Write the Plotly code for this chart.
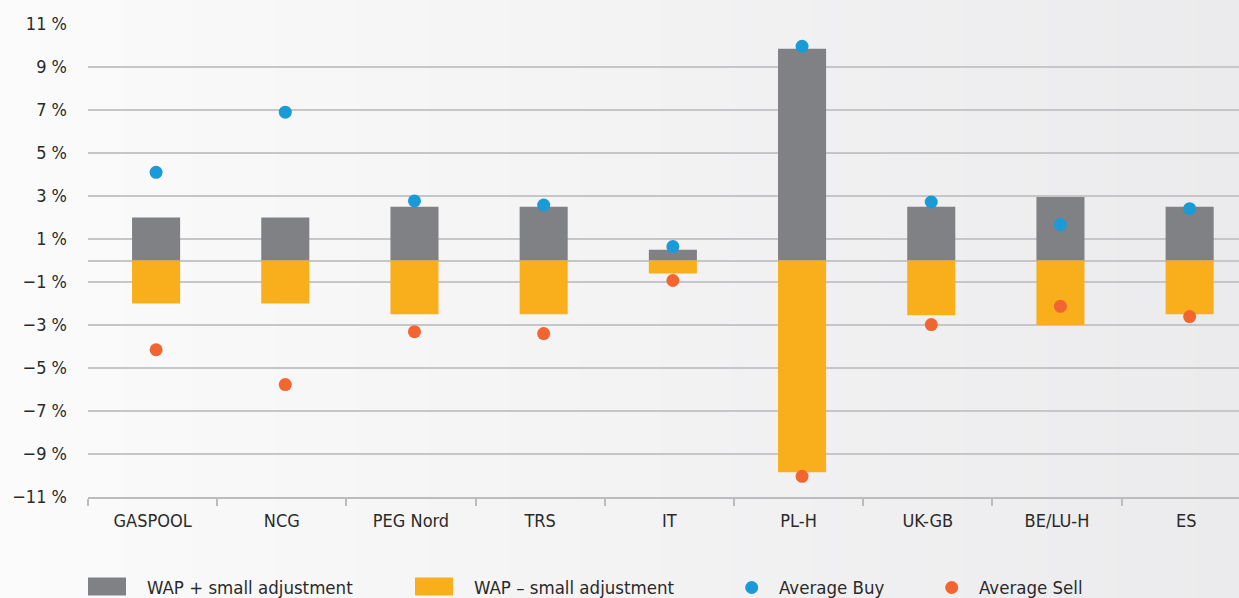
import plotly.graph_objects as go

# ---- data ----
categories = ["GASPOOL", "NCG", "PEG Nord", "TRS", "IT", "PL-H", "UK-GB", "BE/LU-H", "ES"]
wap_plus = [2.0, 2.0, 2.5, 2.5, 0.5, 9.85, 2.5, 2.95, 2.5]
wap_minus = [-2.0, -2.0, -2.5, -2.5, -0.6, -9.85, -2.55, -3.0, -2.5]
avg_buy = [4.1, 6.9, 2.77, 2.58, 0.65, 9.96, 2.72, 1.67, 2.41]
avg_sell = [-4.15, -5.77, -3.31, -3.4, -0.93, -10.04, -2.98, -2.13, -2.61]
y_tickvals = [11, 9, 7, 5, 3, 1, -1, -3, -5, -7, -9, -11]
y_ticktext = ["11 %", "9 %", "7 %", "5 %", "3 %", "1 %", "\u22121 %", "\u22123 %",
              "\u22125 %", "\u22127 %", "\u22129 %", "\u221211 %"]
legend_names = ["WAP + small adjustment", "WAP \u2013 small adjustment", "Average Buy", "Average Sell"]

GRAY = "#808184"
YELLOW = "#f9ae1b"
BLUE = "#1a9ad6"
RED = "#f26531"
TEXT = "#2a2a2a"
FONT = "DejaVu Sans Condensed, Liberation Sans Narrow, Arial Narrow, sans-serif"

W, H = 1239, 598
L, R, T, B = 88, 0, 24, 101
pw, ph = W - L - R, H - T - B
XR = [-0.5, 8.409]
SHIFT = 0.027  # marks sit slightly right of category centre in the reference
BW = 0.372

def px_x(x):
    return (x - L) / pw

def px_y(y):
    return (H - B - y) / ph

fig = go.Figure()
fig.add_trace(go.Bar(x=categories, y=wap_plus, marker=dict(color=GRAY, line=dict(width=0)),
                     width=BW, offset=-BW / 2 + SHIFT, name=legend_names[0], showlegend=False))
fig.add_trace(go.Bar(x=categories, y=wap_minus, marker=dict(color=YELLOW, line=dict(width=0)),
                     width=BW, offset=-BW / 2 + SHIFT, name=legend_names[1], showlegend=False))
fig.add_trace(go.Scatter(x=categories, y=avg_buy, mode="markers", xaxis="x2",
                         marker=dict(color=BLUE, size=13, line=dict(width=0)),
                         name=legend_names[2], showlegend=False))
fig.add_trace(go.Scatter(x=categories, y=avg_sell, mode="markers", xaxis="x2",
                         marker=dict(color=RED, size=13, line=dict(width=0)),
                         name=legend_names[3], showlegend=False))

shapes = []
# background horizontal gradient
n = 90
c0, c1 = (251, 251, 251), (235, 235, 237)
for i in range(n):
    t = i / (n - 1)
    col = tuple(round(c0[k] + (c1[k] - c0[k]) * t) for k in range(3))
    x0 = i * W / n
    x1 = (i + 1) * W / n + 1
    shapes.append(dict(type="rect", xref="paper", yref="paper", layer="below",
                       x0=px_x(x0), x1=px_x(x1), y0=px_y(H + 5), y1=px_y(-5),
                       fillcolor="rgb(%d,%d,%d)" % col, line=dict(width=0)))

# manual legend
shapes.append(dict(type="rect", xref="paper", yref="paper", x0=px_x(88), x1=px_x(126),
                   y0=px_y(595.5), y1=px_y(577.5), fillcolor=GRAY, line=dict(width=0)))
shapes.append(dict(type="rect", xref="paper", yref="paper", x0=px_x(415), x1=px_x(453),
                   y0=px_y(595.5), y1=px_y(577.5), fillcolor=YELLOW, line=dict(width=0)))
shapes.append(dict(type="circle", xref="paper", yref="paper", x0=px_x(745.2), x1=px_x(758.2),
                   y0=px_y(594), y1=px_y(581), fillcolor=BLUE, line=dict(width=0)))
shapes.append(dict(type="circle", xref="paper", yref="paper", x0=px_x(945.2), x1=px_x(958.2),
                   y0=px_y(594), y1=px_y(581), fillcolor=RED, line=dict(width=0)))

annotations = []
for name, xp in zip(legend_names, [145, 472, 777, 977]):
    annotations.append(dict(text=name, xref="paper", yref="paper", x=px_x(xp), y=px_y(587),
                            xanchor="left", yanchor="middle", showarrow=False,
                            font=dict(family=FONT, size=18.5, color=TEXT)))

fig.update_layout(
    width=W, height=H,
    margin=dict(l=L, r=R, t=T, b=B, pad=0),
    barmode="relative",
    paper_bgcolor="#fbfbfb",
    plot_bgcolor="rgba(0,0,0,0)",
    font=dict(family=FONT, size=18, color=TEXT),
    shapes=shapes,
    annotations=annotations,
    showlegend=False,
    xaxis2=dict(type="category", overlaying="x", range=[XR[0] - SHIFT, XR[1] - SHIFT],
                visible=False, showgrid=False, zeroline=False),
)
fig.update_xaxes(
    selector=dict(anchor="y"),
)
fig.layout.xaxis.update(
    type="category", range=XR,
    showline=True, linecolor="#bcbcbe", linewidth=1.5,
    ticks="outside", tickson="boundaries", ticklen=7, tickcolor="#bcbcbe", tickwidth=1.5,
    showgrid=False, ticklabelstandoff=7,
    tickfont=dict(family=FONT, size=18, color=TEXT),
)
fig.update_yaxes(
    range=[-11, 11], tickvals=y_tickvals, ticktext=y_ticktext,
    showgrid=True, gridcolor="#c6c6c8", gridwidth=1.5,
    zeroline=True, zerolinecolor="#c6c6c8", zerolinewidth=1.5,
    showline=False, ticks="", ticklabelstandoff=20,
    tickfont=dict(family=FONT, size=18, color=TEXT),
)

fig.write_html("out.html", config={"displayModeBar": False},
               post_script="document.body.style.margin='0px';document.body.style.overflow='hidden';")
